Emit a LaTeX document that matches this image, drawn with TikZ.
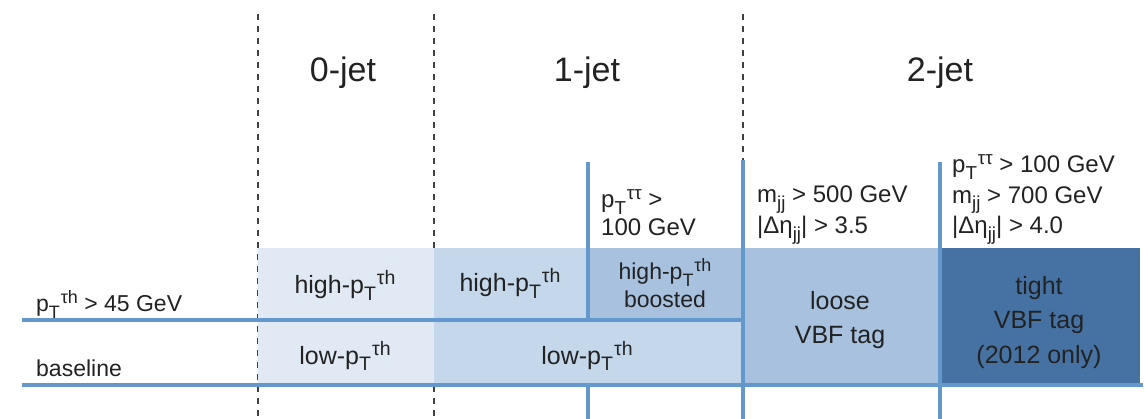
\documentclass[tikz,border=0pt]{standalone}
\usepackage{fontspec}
\usepackage{graphicx}
\setmainfont{Liberation Sans}
\definecolor{cA}{HTML}{E1EAF4}
\definecolor{cB}{HTML}{C4D7EB}
\definecolor{cC}{HTML}{A7C1DF}
\definecolor{cD}{HTML}{4672A3}
\definecolor{lineblue}{HTML}{6497CB}
\definecolor{ink}{HTML}{222222}
\newcommand{\lowtxt}[1]{\raisebox{-0.27em}{\scalebox{0.78}{#1}}}
\newcommand{\hightxt}[1]{\kern0.04em\raisebox{0.36em}{\scalebox{0.78}{#1}}}
\newcommand{\ptth}{p\lowtxt{T}\hightxt{τh}}
\newcommand{\pttt}{p\lowtxt{T}\hightxt{ττ}}
\newcommand{\mjj}{m\lowtxt{jj}}
\newcommand{\detajj}{|Δη\lowtxt{jj}|}
\begin{document}
\begin{tikzpicture}[x=1pt,y=-1pt,
  head/.style={font=\fontsize{34}{40}\selectfont, text=ink, inner sep=0pt},
  boxlabel/.style={font=\fontsize{25}{34}\selectfont, text=ink, inner sep=0pt, align=center},
  cutlabel/.style={font=\fontsize{24}{30.5}\selectfont, text=ink, inner sep=0pt, align=left, anchor=base west},
  sidelabel/.style={font=\fontsize{23}{26}\selectfont, text=ink, inner sep=0pt, anchor=base west},
  cell/.style={draw=none, inner sep=0pt, outer sep=0pt, anchor=north west},
  rule/.style={draw=lineblue, line width=3.5pt},
  guide/.style={draw=black!75, line width=1.2pt, dash pattern=on 6pt off 6pt}
]
\useasboundingbox (0,0) rectangle (1148,419);
% dashed guides
\coordinate (g1t) at (258,14); \coordinate (g1b) at (258,419);
\coordinate (g2t) at (434,14); \coordinate (g2b) at (434,419);
\coordinate (g3t) at (743,14); \coordinate (g3b) at (743,162);
\draw[guide] (g1t) -- (g1b);
\draw[guide] (g2t) -- (g2b);
\draw[guide] (g3t) -- (g3b);
% cells
\node[cell, fill=cA, minimum width=176pt, minimum height=137pt] (zero) at (258,248) {};
\node[cell, fill=cB, minimum width=154pt, minimum height=72pt] (onehigh) at (434,248) {};
\node[cell, fill=cC, minimum width=155pt, minimum height=72pt] (oneboost) at (588,248) {};
\node[cell, fill=cB, minimum width=309pt, minimum height=65pt] (onelow) at (434,320) {};
\node[cell, fill=cC, minimum width=197pt, minimum height=137pt] (loose) at (743,248) {};
\node[cell, fill=cD, minimum width=200pt, minimum height=137pt] (tight) at (940,248) {};
% rules
\coordinate (hA) at (22,320); \coordinate (hB) at (741,320);
\coordinate (lA) at (22,385); \coordinate (lB) at (1143,385);
\coordinate (v1t) at (588,162); \coordinate (v1m) at (588,320);
\coordinate (v1l) at (588,385); \coordinate (v1b) at (588,419);
\coordinate (v2t) at (743,160); \coordinate (v2b) at (743,419);
\coordinate (v3t) at (940,162); \coordinate (v3b) at (940,419);
\draw[rule] (hA) -- (hB);
\draw[rule] (lA) -- (lB);
\draw[rule] (v1t) -- (v1m);
\draw[rule] (v1l) -- (v1b);
\draw[rule] (v2t) -- (v2b);
\draw[rule] (v3t) -- (v3b);
% headers
\node[head, anchor=base] (h0) at (343,82) {0-jet};
\node[head, anchor=base] (h1) at (587,82) {1-jet};
\node[head, anchor=base] (h2) at (940,82) {2-jet};
% side labels
\node[sidelabel] (sel) at (36,312) {\ptth{} > 45 GeV};
\node[sidelabel] (base) at (36,377) {baseline};
% cut labels (anchored at the baseline of the last line)
\node[cutlabel, font=\fontsize{24}{28}\selectfont] (cut1) at (601,236) {\pttt{} >\\100 GeV};
\node[cutlabel, font=\fontsize{24}{31}\selectfont] (cut2) at (757,234) {\mjj{} > 500 GeV\\\detajj{} > 3.5};
\node[cutlabel] (cut3) at (952,234) {\pttt{} > 100 GeV\\\mjj{} > 700 GeV\\\detajj{} > 4.0};
% box labels
\node[boxlabel, anchor=base] (t1) at (345,294) {high-\ptth};
\node[boxlabel, anchor=base] (t2) at (345,364) {low-\ptth};
\node[boxlabel, anchor=base] (t3) at (510,292) {high-\ptth};
\node[boxlabel, anchor=base, font=\fontsize{23}{28}\selectfont] (t4) at (665,308) {high-\ptth\\boosted};
\node[boxlabel, anchor=base] (t5) at (587,364) {low-\ptth};
\node[boxlabel, anchor=base] (t6) at (840,344) {loose\\VBF tag};
\node[boxlabel, anchor=base, font=\fontsize{25}{34.5}\selectfont] (t7) at (1039,363) {tight\\VBF tag\\(2012 only)};
\end{tikzpicture}
\end{document}
